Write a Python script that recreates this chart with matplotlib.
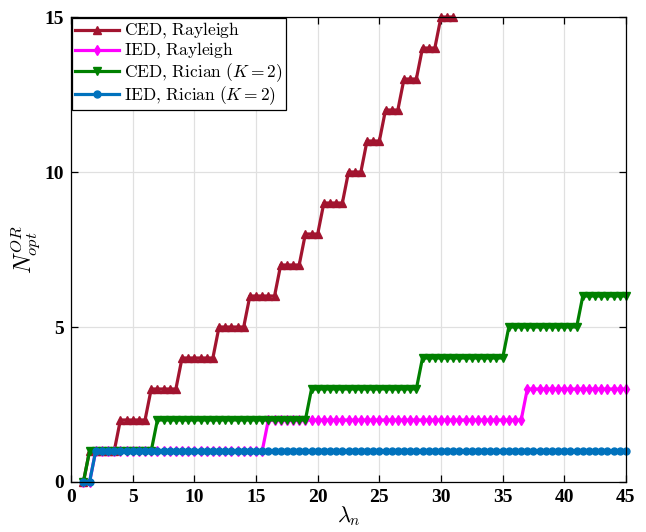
import matplotlib.pyplot as plt
import numpy as np

plt.rcParams['mathtext.fontset'] = 'cm'

# sample points of lambda_n
lam = np.arange(1, 45.5, 0.5)

# x where each series steps up by one
ced_ray_steps = [1.5, 4, 6.5, 9, 12, 14.5, 17, 19, 20.5, 22.5, 24, 25.5, 27, 28.5, 30]
ied_ray_steps = [2, 16, 37]
ced_ric_steps = [1.5, 7, 19.5, 28.5, 35.5, 41.5]
ied_ric_steps = [2]
ced_ray_end = 31

labels = [r'$\mathrm{CED,}\,\mathrm{Rayleigh}$',
          r'$\mathrm{IED,}\,\mathrm{Rayleigh}$',
          r'$\mathrm{CED,}\,\mathrm{Rician}\ (K=2)$',
          r'$\mathrm{IED,}\,\mathrm{Rician}\ (K=2)$']

def levels(steps, x):
    return np.searchsorted(steps, x, side='right')

fig = plt.figure(figsize=(6.46, 5.32), dpi=100)
ax = fig.add_axes([0.110, 0.094, 0.859, 0.874])

x_red = lam[lam <= ced_ray_end]
ax.plot(x_red, levels(ced_ray_steps, x_red), color='#A2142F', marker='^', ms=5.5,
        lw=2.3, label=labels[0], clip_on=False)
ax.plot(lam, levels(ied_ray_steps, lam), color='#FF00FF', marker='d', ms=5.5,
        lw=2.3, label=labels[1], clip_on=False)
ax.plot(lam, levels(ced_ric_steps, lam), color='#008000', marker='v', ms=5.5,
        lw=2.3, label=labels[2], clip_on=False)
ax.plot(lam, levels(ied_ric_steps, lam), color='#0072BD', marker='o', ms=5,
        lw=2.3, label=labels[3], clip_on=False)

ax.set_xlim(0, 45)
ax.set_ylim(0, 15)
ax.set_xticks(np.arange(0, 46, 5))
ax.set_yticks([0, 5, 10, 15])
ax.grid(True, color='#e0e0e0', lw=0.9)
ax.set_axisbelow(True)
ax.tick_params(direction='in', top=True, right=True, length=5, width=0.9, pad=5)
for lab in ax.get_xticklabels() + ax.get_yticklabels():
    lab.set_fontfamily('Liberation Serif')
    lab.set_fontweight('bold')
    lab.set_fontsize(14)
for s in ax.spines.values():
    s.set_linewidth(0.9)

ax.set_xlabel(r'$\lambda_n$', fontsize=16, labelpad=-1)
ax.set_ylabel(r'$N_{opt}^{OR}$', fontsize=17)
ax.yaxis.set_label_coords(-0.05, 0.5)

leg = ax.legend(loc='upper left', fontsize=12.5, handlelength=2.5, labelspacing=0.0,
                borderpad=0.2, borderaxespad=0.05, handletextpad=0.3, fancybox=False,
                framealpha=1, edgecolor='black')
leg.get_frame().set_linewidth(0.9)

fig.savefig('out.png', dpi=100)
